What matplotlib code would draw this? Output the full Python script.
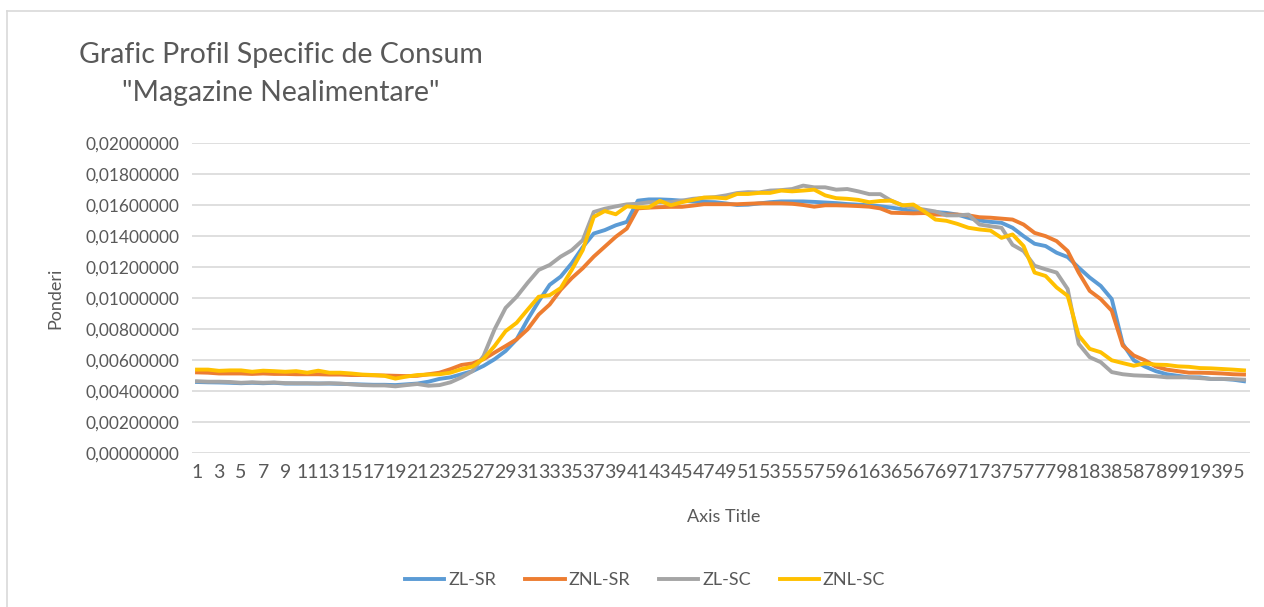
import numpy as np
import matplotlib
matplotlib.use("Agg")
import matplotlib.pyplot as plt
from matplotlib.ticker import FuncFormatter, MultipleLocator
from matplotlib.lines import Line2D

plt.rcParams['font.family'] = ['Lato', 'DejaVu Sans']

# intervale orare (1..96)
intervale = np.arange(1, 97)

zl_sr = [0.00460, 0.00458, 0.00457, 0.00455, 0.00452, 0.00455, 0.00452, 0.00455, 0.00450, 0.00450,
         0.00450, 0.00450, 0.00450, 0.00448, 0.00446, 0.00444, 0.00442, 0.00442, 0.00440, 0.00445,
         0.00450, 0.00462, 0.00480, 0.00490, 0.00510, 0.00530, 0.00564, 0.00607, 0.00660, 0.00735,
         0.00863, 0.00980, 0.01087, 0.01140, 0.01226, 0.01330, 0.01418, 0.01440, 0.01471, 0.01493,
         0.01630, 0.01638, 0.01638, 0.01635, 0.01630, 0.01624, 0.01622, 0.01620, 0.01612, 0.01602,
         0.01604, 0.01612, 0.01620, 0.01625, 0.01625, 0.01625, 0.01622, 0.01618, 0.01614, 0.01608,
         0.01604, 0.01600, 0.01594, 0.01585, 0.01575, 0.01562, 0.01560, 0.01557, 0.01551, 0.01540,
         0.01519, 0.01502, 0.01493, 0.01487, 0.01455, 0.01401, 0.01352, 0.01337, 0.01294, 0.01266,
         0.01198, 0.01134, 0.01080, 0.00995, 0.00706, 0.00600, 0.00560, 0.00530, 0.00510, 0.00500,
         0.00490, 0.00490, 0.00480, 0.00480, 0.00475, 0.00465]

znl_sr = [0.00522, 0.00520, 0.00515, 0.00515, 0.00515, 0.00512, 0.00515, 0.00512, 0.00512, 0.00510,
          0.00510, 0.00510, 0.00508, 0.00508, 0.00505, 0.00505, 0.00503, 0.00502, 0.00500, 0.00498,
          0.00500, 0.00510, 0.00520, 0.00543, 0.00570, 0.00580, 0.00607, 0.00650, 0.00692, 0.00735,
          0.00800, 0.00895, 0.00960, 0.01055, 0.01130, 0.01194, 0.01269, 0.01333, 0.01397, 0.01450,
          0.01580, 0.01585, 0.01588, 0.01590, 0.01590, 0.01598, 0.01607, 0.01607, 0.01607, 0.01607,
          0.01610, 0.01613, 0.01613, 0.01613, 0.01610, 0.01602, 0.01591, 0.01600, 0.01600, 0.01598,
          0.01595, 0.01591, 0.01580, 0.01552, 0.01550, 0.01548, 0.01550, 0.01540, 0.01540, 0.01540,
          0.01535, 0.01523, 0.01520, 0.01514, 0.01508, 0.01476, 0.01422, 0.01401, 0.01369, 0.01305,
          0.01166, 0.01048, 0.00995, 0.00920, 0.00695, 0.00631, 0.00600, 0.00560, 0.00540, 0.00530,
          0.00520, 0.00520, 0.00518, 0.00515, 0.00510, 0.00508]

zl_sc = [0.00465, 0.00462, 0.00462, 0.00460, 0.00455, 0.00458, 0.00455, 0.00457, 0.00453, 0.00452,
         0.00452, 0.00450, 0.00452, 0.00450, 0.00445, 0.00440, 0.00438, 0.00438, 0.00432, 0.00440,
         0.00447, 0.00436, 0.00440, 0.00458, 0.00490, 0.00530, 0.00628, 0.00800, 0.00938, 0.01010,
         0.01100, 0.01183, 0.01215, 0.01269, 0.01310, 0.01375, 0.01557, 0.01578, 0.01593, 0.01606,
         0.01610, 0.01620, 0.01620, 0.01620, 0.01630, 0.01642, 0.01648, 0.01653, 0.01664, 0.01679,
         0.01685, 0.01683, 0.01695, 0.01698, 0.01705, 0.01727, 0.01716, 0.01716, 0.01701, 0.01705,
         0.01690, 0.01672, 0.01672, 0.01629, 0.01600, 0.01583, 0.01572, 0.01560, 0.01535, 0.01535,
         0.01540, 0.01476, 0.01465, 0.01455, 0.01345, 0.01305, 0.01210, 0.01187, 0.01166, 0.01060,
         0.00706, 0.00620, 0.00588, 0.00524, 0.00510, 0.00503, 0.00500, 0.00497, 0.00490, 0.00490,
         0.00490, 0.00485, 0.00480, 0.00480, 0.00478, 0.00475]

znl_sc = [0.00540, 0.00540, 0.00532, 0.00535, 0.00535, 0.00526, 0.00533, 0.00530, 0.00526, 0.00530,
          0.00520, 0.00533, 0.00520, 0.00520, 0.00515, 0.00508, 0.00505, 0.00500, 0.00482, 0.00495,
          0.00505, 0.00508, 0.00510, 0.00520, 0.00543, 0.00560, 0.00610, 0.00692, 0.00788, 0.00842,
          0.00927, 0.01010, 0.01020, 0.01066, 0.01183, 0.01311, 0.01525, 0.01563, 0.01542, 0.01593,
          0.01587, 0.01587, 0.01629, 0.01600, 0.01620, 0.01635, 0.01650, 0.01650, 0.01645, 0.01673,
          0.01673, 0.01680, 0.01680, 0.01695, 0.01690, 0.01695, 0.01701, 0.01664, 0.01646, 0.01642,
          0.01635, 0.01620, 0.01628, 0.01630, 0.01600, 0.01605, 0.01560, 0.01508, 0.01500, 0.01480,
          0.01455, 0.01444, 0.01437, 0.01390, 0.01412, 0.01337, 0.01166, 0.01144, 0.01070, 0.01016,
          0.00760, 0.00674, 0.00652, 0.00600, 0.00582, 0.00565, 0.00580, 0.00572, 0.00570, 0.00561,
          0.00558, 0.00550, 0.00548, 0.00544, 0.00540, 0.00535]

serii = [("ZL-SR", zl_sr, "#5B9BD5"),
         ("ZNL-SR", znl_sr, "#ED7D31"),
         ("ZL-SC", zl_sc, "#A5A5A5"),
         ("ZNL-SC", znl_sc, "#FFC000")]

text_color = "#595959"
grid_color = "#D9D9D9"

fig = plt.figure(figsize=(12.64, 6.07), dpi=100)
ax = fig.add_axes([191.5 / 1264, 1 - 453.3 / 607, 1058 / 1264, 310 / 607])

for nume, valori, culoare in serii:
    ax.plot(intervale, valori, color=culoare, linewidth=2.8, label=nume,
            solid_joinstyle='round')

ax.set_xlim(0.5, 96.5)
ax.set_ylim(0, 0.02)
ax.yaxis.set_major_locator(MultipleLocator(0.002))
ax.yaxis.set_major_formatter(FuncFormatter(lambda v, p: f"{v:.8f}".replace('.', ',')))
ax.set_xticks(intervale[::2])
ax.set_xticklabels([str(i) for i in intervale[::2]])
ax.grid(axis='y', color=grid_color, linewidth=1.2)
ax.set_axisbelow(True)
for s in ax.spines.values():
    s.set_visible(False)
ax.tick_params(length=0, labelsize=12.5, colors=text_color, pad=9)
ax.tick_params(axis='x', labelsize=14, pad=8)

# titluri
fig.text(281 / 1264, 1 - 63 / 607, "Grafic Profil Specific de Consum", ha='center',
         va='baseline', fontsize=20.5, color=text_color)
fig.text(281 / 1264, 1 - 101 / 607, "\"Magazine Nealimentare\"", ha='center',
         va='baseline', fontsize=20.5, color=text_color)
fig.text(55 / 1264, 1 - 298 / 607, "Ponderi", rotation=90, ha='center', va='center',
         fontsize=13, color=text_color)
fig.text(724 / 1264, 1 - 517 / 607, "Axis Title", ha='center', va='center',
         fontsize=13, color=text_color)

fig.legend(loc='center', bbox_to_anchor=(645 / 1264, 1 - 580 / 607), ncol=4,
           frameon=False, fontsize=13, handlelength=2.2, handletextpad=0.2,
           columnspacing=1.6, labelcolor=text_color)

# chenar
fig.add_artist(Line2D([7 / 1264, 1], [1 - 11 / 607, 1 - 11 / 607], color=grid_color, lw=1.2))
fig.add_artist(Line2D([7 / 1264, 7 / 1264], [0, 1 - 11 / 607], color=grid_color, lw=1.2))

fig.savefig("out.png", dpi=100)
